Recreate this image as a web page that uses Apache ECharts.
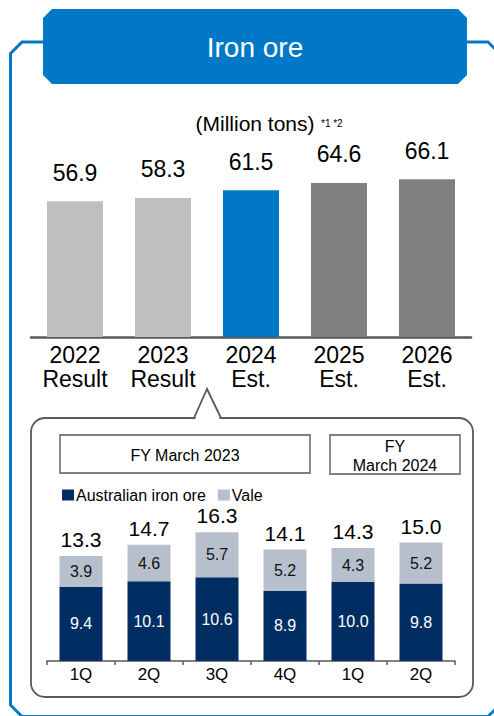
<!DOCTYPE html>
<html>
<head>
<meta charset="utf-8">
<script src="https://cdn.jsdelivr.net/npm/echarts@6/dist/echarts.min.js"></script>
<style>
html,body{margin:0;padding:0;background:#fff;}
#chart{width:494px;height:716px;}
</style>
</head>
<body>
<div id="chart"></div>
<script>
// ---- data ----
var yearCategories = ['2022\nResult', '2023\nResult', '2024\nEst.', '2025\nEst.', '2026\nEst.'];
var yearValues = [56.9, 58.3, 61.5, 64.6, 66.1];
var yearColors = ['#bfbfbf', '#bfbfbf', '#0078c8', '#808080', '#808080'];

var quarterCategories = ['1Q', '2Q', '3Q', '4Q', '1Q', '2Q'];
var australianValues = [9.4, 10.1, 10.6, 8.9, 10.0, 9.8];
var valeValues = [3.9, 4.6, 5.7, 5.2, 4.3, 5.2];
var quarterTotals = [13.3, 14.7, 16.3, 14.1, 14.3, 15.0];

var titleText = 'Iron ore';
var unitText = '(Million tons)';
var noteText = '*1 *2';
var fy2023Text = 'FY March 2023';
var fy2024Text = 'FY\nMarch 2024';

var FONT = '"Liberation Sans", Arial, sans-serif';
var BLUE = '#0078c8';
var NAVY = '#002e63';
var VALE = '#b8bfcc';

var chart = echarts.init(document.getElementById('chart'), null, {renderer: 'svg'});

var option = {
  animation: false,
  backgroundColor: '#ffffff',
  textStyle: {fontFamily: FONT},
  legend: {
    left: 57, top: 482,
    itemWidth: 12, itemHeight: 11, itemGap: 12,
    icon: 'rect',
    textStyle: {fontSize: 16, color: '#000', fontFamily: FONT, padding: [0, 0, 0, -3]},
    data: ['Australian iron ore', 'Vale']
  },
  grid: [
    {left: 31, right: 23, top: 170, bottom: 379},
    {left: 47, right: 39, top: 503, bottom: 55}
  ],
  xAxis: [
    {
      gridIndex: 0, type: 'category', data: yearCategories,
      axisLine: {lineStyle: {color: '#595959', width: 2.5}},
      axisTick: {show: false},
      axisLabel: {fontSize: 23, lineHeight: 24, color: '#000', margin: 6, fontFamily: FONT}
    },
    {
      gridIndex: 1, type: 'category', data: quarterCategories,
      axisLine: {lineStyle: {color: '#595959', width: 1.5}},
      axisTick: {show: true, length: 4, lineStyle: {color: '#595959', width: 1.5}},
      axisLabel: {fontSize: 17, color: '#000', margin: 5, fontFamily: FONT}
    }
  ],
  yAxis: [
    {gridIndex: 0, type: 'value', min: 0, max: 70, show: false, splitLine: {show: false}},
    {gridIndex: 1, type: 'value', min: 0, max: 20, show: false, splitLine: {show: false}}
  ],
  series: [
    {
      type: 'bar', xAxisIndex: 0, yAxisIndex: 0, barWidth: 56,
      data: yearValues.map(function (v, i) {
        return {value: v, itemStyle: {color: yearColors[i]}};
      }),
      label: {show: true, position: 'top', distance: 17, fontSize: 23, color: '#000', fontFamily: FONT,
        formatter: function (p) { return p.value.toFixed(1); }}
    },
    {
      name: 'Australian iron ore', type: 'bar', xAxisIndex: 1, yAxisIndex: 1, stack: 'q', barWidth: 43,
      data: australianValues,
      itemStyle: {color: NAVY},
      label: {show: true, position: 'inside', fontSize: 16, color: '#fff', fontFamily: FONT,
        formatter: function (p) { return p.value.toFixed(1); }}
    },
    {
      name: 'Vale', type: 'bar', xAxisIndex: 1, yAxisIndex: 1, stack: 'q', barWidth: 43,
      data: valeValues,
      itemStyle: {color: VALE},
      label: {show: true, position: 'inside', fontSize: 16, color: '#111', fontFamily: FONT,
        formatter: function (p) { return p.value.toFixed(1); }}
    },
    {
      name: 'Total', type: 'scatter', xAxisIndex: 1, yAxisIndex: 1, symbolSize: 0,
      data: quarterTotals,
      itemStyle: {opacity: 1},
      label: {show: true, position: 'top', distance: 6, fontSize: 21, color: '#000', opacity: 1, fontFamily: FONT,
        formatter: function (p) { return p.value.toFixed(1); }}
    }
  ],
  graphic: [
    // outer frame
    {type: 'polyline', silent: true, z: 1,
      shape: {points: [[43, 42], [22, 42], [10.5, 53.5], [10.5, 705], [22, 716.5], [488, 716.5], [500, 704.5], [500, 54], [488, 42], [467, 42]]},
      style: {stroke: BLUE, lineWidth: 3, fill: null}},
    // title banner
    {type: 'polygon', silent: true, z: 2,
      shape: {points: [[52, 9], [458, 9], [467, 18], [467, 75], [458, 84], [52, 84], [43, 75], [43, 18]]},
      style: {fill: BLUE}},
    {type: 'text', silent: true, z: 3, x: 255, y: 47,
      style: {text: titleText, fill: '#fff', font: '28px ' + FONT, align: 'center', verticalAlign: 'middle'}},
    // unit
    {type: 'text', silent: true, z: 3, x: 255, y: 123,
      style: {text: unitText, fill: '#000', font: '21px ' + FONT, align: 'center', verticalAlign: 'middle'}},
    {type: 'text', silent: true, z: 3, x: 321, y: 123,
      style: {text: noteText, fill: '#000', font: '10px ' + FONT, align: 'left', verticalAlign: 'middle'}},
    // callout box
    {type: 'rect', silent: true, z: 1, shape: {x: 31, y: 418, width: 442, height: 279, r: 14},
      style: {stroke: '#595959', lineWidth: 1.8, fill: null}},
    {type: 'line', silent: true, z: 2, shape: {x1: 195.5, y1: 418, x2: 219.5, y2: 418},
      style: {stroke: '#fff', lineWidth: 3}},
    {type: 'polyline', silent: true, z: 3, shape: {points: [[194, 418], [207, 389], [221, 418]]},
      style: {stroke: '#595959', lineWidth: 1.8, fill: null}},
    // FY boxes
    {type: 'rect', silent: true, z: 1, shape: {x: 60, y: 435, width: 250, height: 38},
      style: {stroke: '#808080', lineWidth: 1.8, fill: '#fff'}},
    {type: 'text', silent: true, z: 3, x: 185, y: 455,
      style: {text: fy2023Text, fill: '#000', font: '16px ' + FONT, align: 'center', verticalAlign: 'middle'}},
    {type: 'rect', silent: true, z: 1, shape: {x: 330, y: 435, width: 130, height: 39},
      style: {stroke: '#808080', lineWidth: 1.8, fill: '#fff'}},
    {type: 'text', silent: true, z: 3, x: 395, y: 455.5,
      style: {text: fy2024Text, fill: '#000', font: '16px ' + FONT, lineHeight: 19, align: 'center', verticalAlign: 'middle'}}
  ]
};
chart.setOption(option);
</script>
</body>
</html>
